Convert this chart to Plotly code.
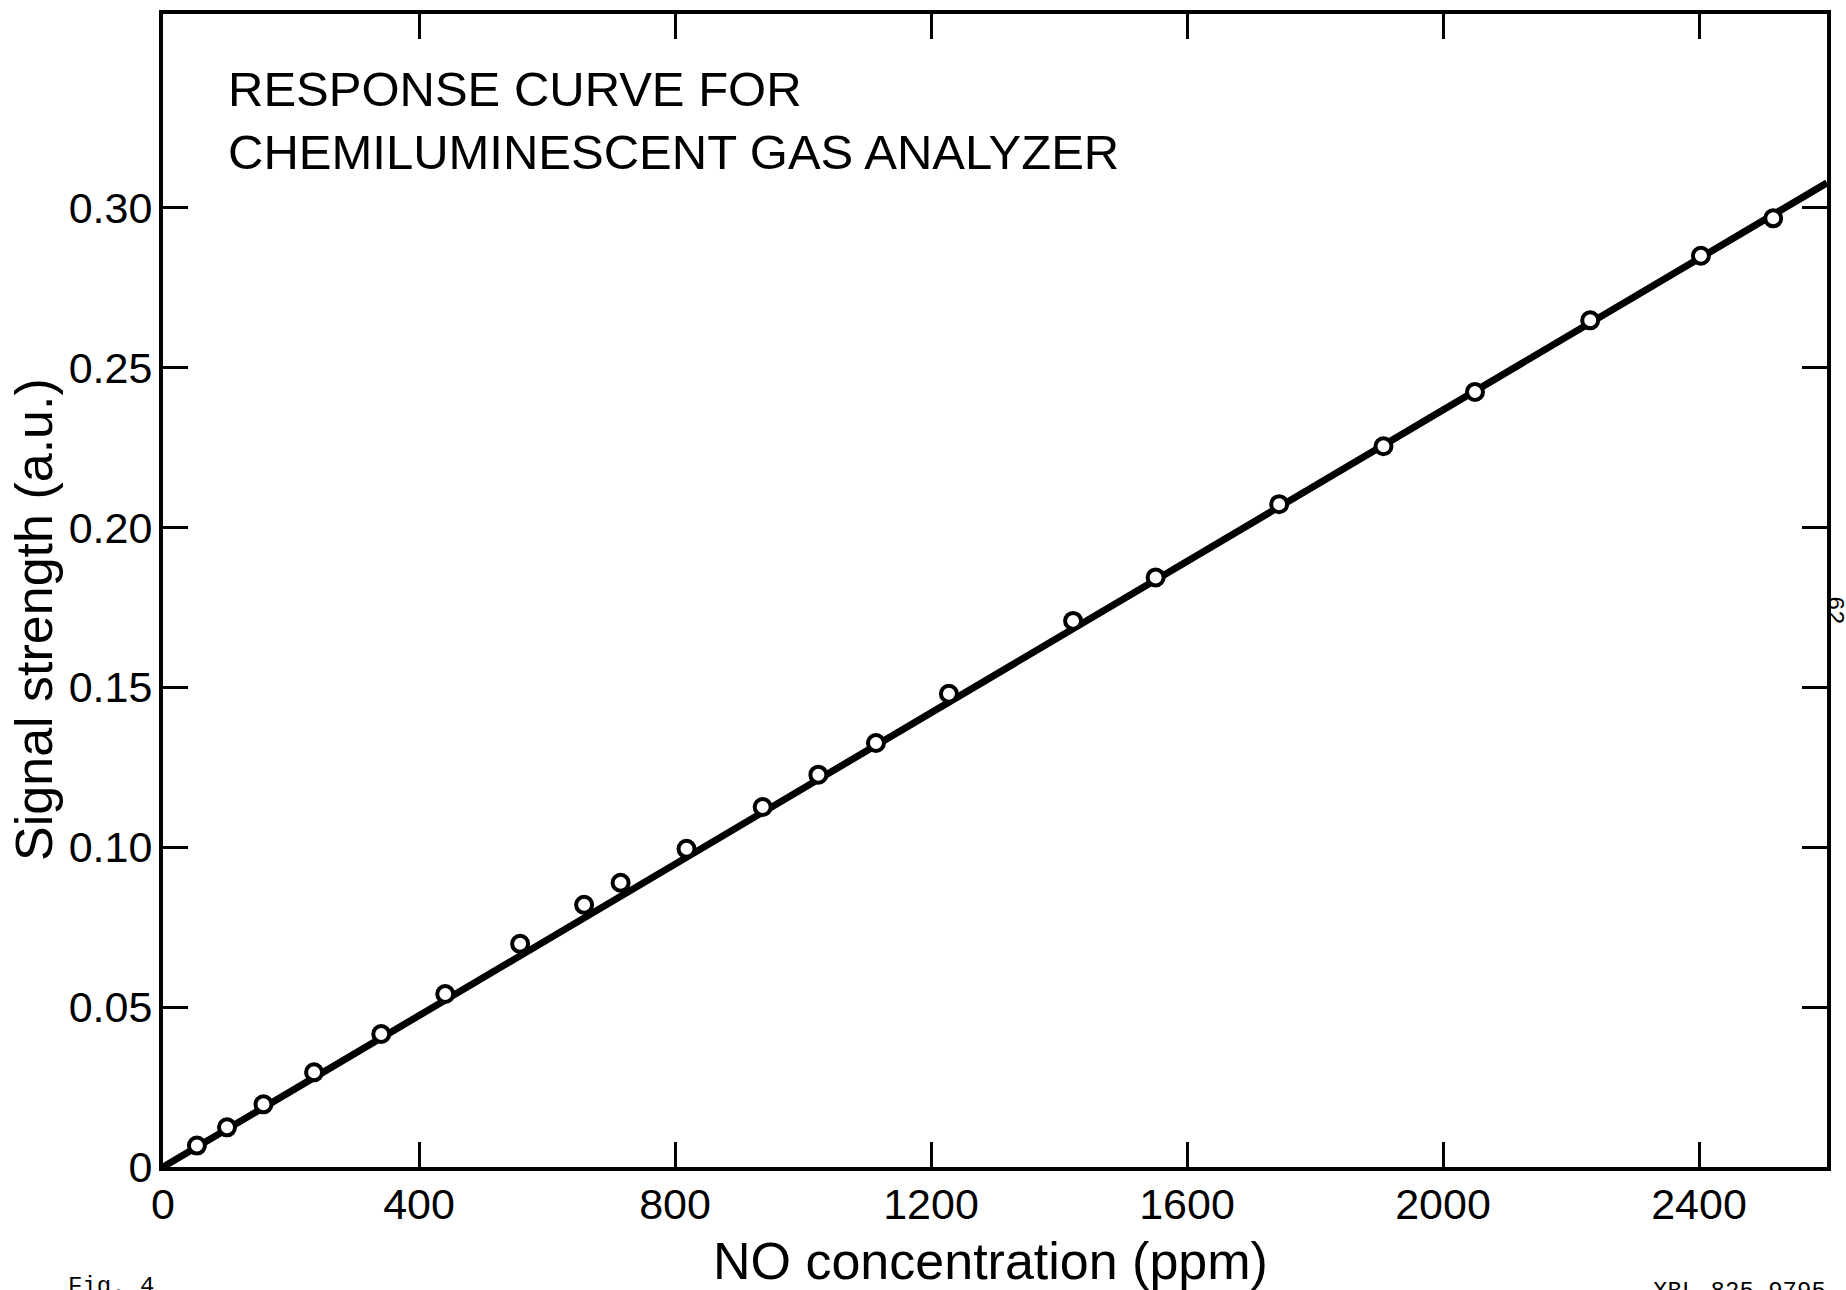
import plotly.graph_objects as go

# Measured data points (NO concentration in ppm, signal strength a.u.)
conc_ppm = [53, 100, 157, 236, 341, 441, 558, 658, 715, 818, 937, 1024, 1114,
            1228, 1422, 1551, 1744, 1907, 2050, 2230, 2403, 2516]
signal_au = [0.0067, 0.0124, 0.0196, 0.0296, 0.0416, 0.0541, 0.0698, 0.0820,
             0.0889, 0.0995, 0.1126, 0.1227, 0.1326, 0.1480, 0.1708, 0.1844,
             0.2073, 0.2254, 0.2424, 0.2648, 0.2850, 0.2967]

# Fitted response line
fit_x = [0, 2600]
fit_y = [0, 0.3078]

x_ticks = [0, 400, 800, 1200, 1600, 2000, 2400]
x_ticklabels = ["0", "400", "800", "1200", "1600", "2000", "2400"]
y_ticks = [0, 0.05, 0.10, 0.15, 0.20, 0.25, 0.30]
y_ticklabels = ["0", "0.05", "0.10", "0.15", "0.20", "0.25", "0.30"]

title_lines = ["RESPONSE CURVE FOR", "CHEMILUMINESCENT GAS ANALYZER"]
x_title = "NO concentration (ppm)"
y_title = "Signal strength (a.u.)"

W, H = 1846, 1290
L, R, T, B = 163, 19, 10, 123
plot_h = H - T - B
plot_w = W - L - R


def px_to_paper_y(py):
    return (H - B - py) / plot_h


def px_to_paper_x(px):
    return (px - L) / plot_w


fig = go.Figure()
fig.add_trace(go.Scatter(x=fit_x, y=fit_y, mode="lines",
                         line=dict(color="black", width=7),
                         hoverinfo="skip", showlegend=False))
fig.add_trace(go.Scatter(x=conc_ppm, y=signal_au, mode="markers",
                         marker=dict(symbol="circle", size=16, color="white",
                                     line=dict(color="black", width=4)),
                         showlegend=False))

axis_common = dict(showgrid=False, zeroline=False, showline=True,
                   linecolor="black", linewidth=4, mirror="allticks",
                   ticks="inside", ticklen=25, tickwidth=3, tickcolor="black",
                   tickfont=dict(family="Liberation Sans, Arial, sans-serif",
                                 size=43, color="black"))

fig.update_xaxes(range=[0, 2600], tickvals=x_ticks, ticktext=x_ticklabels,
                 ticklabelstandoff=-4, **axis_common)
fig.update_yaxes(range=[0, 0.3606], tickvals=y_ticks, ticktext=y_ticklabels,
                 ticklabelstandoff=-2, **axis_common)

annotations = []
# Chart title inside plot
title_font = dict(family="Liberation Sans Narrow, Arial Narrow, Liberation Sans, sans-serif",
                  size=49, color="black")
for i, line in enumerate(title_lines):
    annotations.append(dict(text=line, xref="paper", yref="paper",
                            x=px_to_paper_x(226), y=px_to_paper_y([85, 148][i]),
                            xanchor="left", yanchor="middle", showarrow=False,
                            font=title_font))
# Axis titles
annotations.append(dict(text=x_title, xref="paper", yref="paper",
                        x=px_to_paper_x(990), y=px_to_paper_y(1261),
                        xanchor="center", yanchor="middle", showarrow=False,
                        font=dict(family="Liberation Sans, Arial, sans-serif",
                                  size=52, color="black")))
annotations.append(dict(text=y_title, xref="paper", yref="paper",
                        x=px_to_paper_x(34), y=px_to_paper_y(618),
                        xanchor="center", yanchor="middle", showarrow=False,
                        textangle=-90,
                        font=dict(family="Liberation Sans, Arial, sans-serif",
                                  size=52, color="black")))
# Page marks
mono = dict(family="Liberation Mono, DejaVu Sans Mono, monospace", size=24,
            color="black")
annotations.append(dict(text="Fig. 4", xref="paper", yref="paper",
                        x=px_to_paper_x(66), y=px_to_paper_y(1271),
                        xanchor="left", yanchor="top", showarrow=False,
                        font=mono))
annotations.append(dict(text="XBL 825-9795", xref="paper", yref="paper",
                        x=px_to_paper_x(1828), y=px_to_paper_y(1276),
                        xanchor="right", yanchor="top", showarrow=False,
                        font=mono))
annotations.append(dict(text="62", xref="paper", yref="paper",
                        x=px_to_paper_x(1834), y=px_to_paper_y(608),
                        xanchor="center", yanchor="middle", showarrow=False,
                        textangle=90, font=mono))

fig.update_layout(width=W, height=H, margin=dict(l=L, r=R, t=T, b=B),
                  paper_bgcolor="white", plot_bgcolor="white",
                  annotations=annotations, showlegend=False)

fig.write_html("out.html")
